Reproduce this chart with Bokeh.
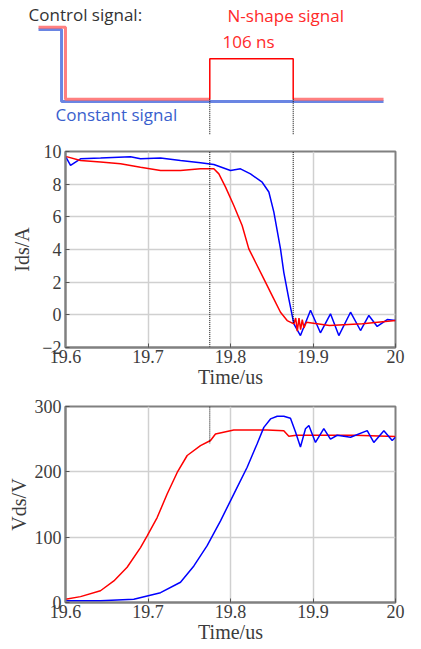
from bokeh.plotting import figure
from bokeh.layouts import column
from bokeh.models import Range1d, FixedTicker, Label
from bokeh.embed import file_html
from bokeh.resources import INLINE

# ---------------- data ----------------
# control-signal schematic (time in us, normalised level)
ctrl_red_t = [19.5673, 19.6000, 19.6000, 19.7749]
ctrl_red_v = [1.0, 1.0, 0.0, 0.0]
pulse_t = [19.7749, 19.7749, 19.8760, 19.8760]
pulse_v = [0.0, 0.561, 0.561, 0.0]
ctrl_red2_t = [19.8760, 19.9855]
ctrl_red2_v = [0.0, 0.0]
ctrl_blue_t = [19.5673, 19.5952, 19.5952, 19.9855]
ctrl_blue_v = [0.968, 0.968, -0.032, -0.032]
pulse_edges = [19.7749, 19.8760]

# Ids (A)
ids_blue_t = [19.600, 19.6061, 19.6182, 19.6424, 19.6788, 19.6909, 19.7152, 19.7394,
              19.7636, 19.7798, 19.800, 19.8121, 19.8242, 19.8384, 19.8465, 19.8525,
              19.8606, 19.8646, 19.8707, 19.8768, 19.8848, 19.897, 19.909, 19.9212,
              19.9313, 19.9455, 19.9576, 19.9677, 19.9778, 19.990, 20.000]
ids_blue_v = [9.70, 9.15, 9.55, 9.60, 9.68, 9.55, 9.60, 9.45,
              9.31, 9.20, 8.84, 8.94, 8.63, 8.12, 7.52, 6.30,
              4.04, 2.60, 0.98, -0.55, -1.27, 0.28, -1.10, 0.06,
              -1.27, 0.16, -0.96, -0.04, -0.71, -0.29, -0.35]
ids_red_t = [19.600, 19.6182, 19.6424, 19.6667, 19.6909, 19.7152, 19.7394, 19.7636,
             19.7798, 19.7859, 19.794, 19.804, 19.8141, 19.8222, 19.8303, 19.8404,
             19.8505, 19.8606, 19.8687, 19.8768, 19.879, 19.881, 19.883, 19.885,
             19.887, 19.889, 19.892, 19.92, 19.96, 20.0]
ids_red_v = [9.70, 9.45, 9.35, 9.25, 9.04, 8.84, 8.84, 8.94,
             8.94, 8.63, 7.82, 6.69, 5.47, 4.04, 3.22, 2.20,
             1.18, 0.16, -0.35, -0.55, -0.2, -1.0, -0.2, -0.9,
             -0.3, -0.8, -0.45, -0.65, -0.55, -0.35]

# Vds (V)
vds_red_t = [19.600, 19.6182, 19.6424, 19.6586, 19.6747, 19.6909, 19.699, 19.7111,
             19.7232, 19.7354, 19.7475, 19.7636, 19.7758, 19.7818, 19.804, 19.8444,
             19.8646, 19.8707, 19.88, 19.95, 20.0]
vds_red_v = [5, 9, 18, 33, 54, 84, 102, 130,
             166, 199, 225, 240, 248, 258, 264, 264,
             263, 254.6, 256, 256, 254]
vds_blue_t = [19.600, 19.6424, 19.6828, 19.7152, 19.7394, 19.7556, 19.7717, 19.7879,
              19.804, 19.8202, 19.8323, 19.8404, 19.8485, 19.8566, 19.8646, 19.8727,
              19.8788, 19.8848, 19.8909, 19.895, 19.903, 19.9131, 19.9212, 19.9293,
              19.9455, 19.9657, 19.9737, 19.9859, 19.996, 20.0]
vds_blue_v = [2.5, 2.5, 5, 15, 31, 56, 87, 125,
              166, 207, 243, 268, 281, 285, 285, 282,
              261, 238, 266, 271, 245, 266, 250, 256,
              253, 263, 245, 263, 248, 253]

x_ticks = [19.6, 19.7, 19.8, 19.9, 20.0]
x_labels = ["19.6", "19.7", "19.8", "19.9", "20"]
ids_ticks = [-2, 0, 2, 4, 6, 8, 10]
vds_ticks = [0, 100, 200, 300]

RED = "#ff0000"
BLUE = "#0000ff"
GRAY = "#808080"
TXT = "#3c3c3c"
SERIF = "Liberation Serif"
SANS = "Open Sans"
W = 421

# ---------------- control signal schematic ----------------
sig = figure(width=W, height=135, x_range=Range1d(19.52121, 20.03152),
             y_range=Range1d(-0.504, 1.371), output_backend="svg",
             toolbar_location=None, min_border_left=0, min_border_right=0,
             min_border_top=0, min_border_bottom=0)
sig.frame_align = False
sig.axis.visible = False
sig.grid.visible = False
sig.outline_line_color = None
sig.background_fill_color = "white"

sig.line(ctrl_blue_t, ctrl_blue_v, line_color="#5a78e0", line_width=3, line_alpha=0.9)
sig.line(ctrl_red_t, ctrl_red_v, line_color="#ff6a6a", line_width=3, line_alpha=0.85)
sig.line(ctrl_red2_t, ctrl_red2_v, line_color="#ff6a6a", line_width=3, line_alpha=0.85)
sig.line(pulse_t, pulse_v, line_color=RED, line_width=1.5)
for t in pulse_edges:
    sig.segment(x0=[t], y0=[0.0], x1=[t], y1=[-0.6], line_color="black",
                line_width=1, line_dash="1 1")

sig.add_layout(Label(x=19.5552, y=1.183, text="Control signal:", text_font=SANS,
                     text_font_size="17px", text_color="#333333", text_baseline="middle"))
sig.add_layout(Label(x=19.7964, y=1.156, text="N-shape signal", text_font=SANS,
                     text_font_size="17px", text_color="#ff2a2a", text_baseline="middle"))
sig.add_layout(Label(x=19.7903, y=0.80, text="106 ns", text_font=SANS,
                     text_font_size="17px", text_color="#ff2a2a", text_baseline="middle"))
sig.add_layout(Label(x=19.5879, y=-0.219, text="Constant signal", text_font=SANS,
                     text_font_size="17px", text_color="#3a5fcd", text_baseline="middle"))


def style(p, yticks, ylabel, ylabel_standoff):
    p.xaxis.ticker = FixedTicker(ticks=x_ticks)
    p.xaxis.major_label_overrides = {t: l for t, l in zip(x_ticks, x_labels)}
    p.yaxis.ticker = FixedTicker(ticks=yticks)
    p.xaxis.axis_label = "Time/us"
    p.yaxis.axis_label = ylabel
    for ax in (p.xaxis, p.yaxis):
        ax.axis_label_text_font = SERIF
        ax.axis_label_text_font_size = "20px"
        ax.axis_label_text_font_style = "normal"
        ax.axis_label_text_color = TXT
        ax.major_label_text_font = SERIF
        ax.major_label_text_font_size = "18px"
        ax.major_label_text_color = TXT
        ax.axis_line_color = GRAY
        ax.axis_line_width = 2
        ax.major_tick_in = 4
        ax.major_tick_out = 0
        ax.major_tick_line_color = "#555555"
        ax.minor_tick_line_color = None
    p.xaxis.major_label_standoff = 2
    p.xaxis.axis_label_standoff = 0
    p.yaxis.major_label_standoff = 4
    p.yaxis.axis_label_standoff = ylabel_standoff
    p.grid.grid_line_color = "#d0d0d0"
    p.grid.grid_line_width = 1.5
    p.outline_line_color = GRAY
    p.outline_line_width = 2


# ---------------- Ids ----------------
p1 = figure(width=W, height=260, x_range=Range1d(19.6, 20.0), y_range=Range1d(-2, 10),
            output_backend="svg", toolbar_location=None,
            min_border_left=65, min_border_right=26, min_border_top=16, min_border_bottom=48)
style(p1, ids_ticks, "Ids/A", 6)
p1.line(ids_blue_t, ids_blue_v, line_color=BLUE, line_width=1.5)
p1.line(ids_red_t, ids_red_v, line_color=RED, line_width=1.5)
p1.segment(x0=pulse_edges, y0=[11.2, 11.2], x1=pulse_edges, y1=[-5.2, -0.5],
           line_color="black", line_width=1, line_dash="1 1")

# ---------------- Vds ----------------
p2 = figure(width=W, height=253, x_range=Range1d(19.6, 20.0), y_range=Range1d(0, 300),
            output_backend="svg", toolbar_location=None,
            min_border_left=65, min_border_right=26, min_border_top=11, min_border_bottom=46)
style(p2, vds_ticks, "Vds/V", 2)
p2.line(vds_red_t, vds_red_v, line_color=RED, line_width=1.5)
p2.line(vds_blue_t, vds_blue_v, line_color=BLUE, line_width=1.5)
p2.segment(x0=[pulse_edges[0]], y0=[320], x1=[pulse_edges[0]], y1=[243],
           line_color="black", line_width=1, line_dash="1 1")

layout = column(sig, p1, p2, spacing=0)
open("out.html", "w").write(file_html(layout, INLINE))
